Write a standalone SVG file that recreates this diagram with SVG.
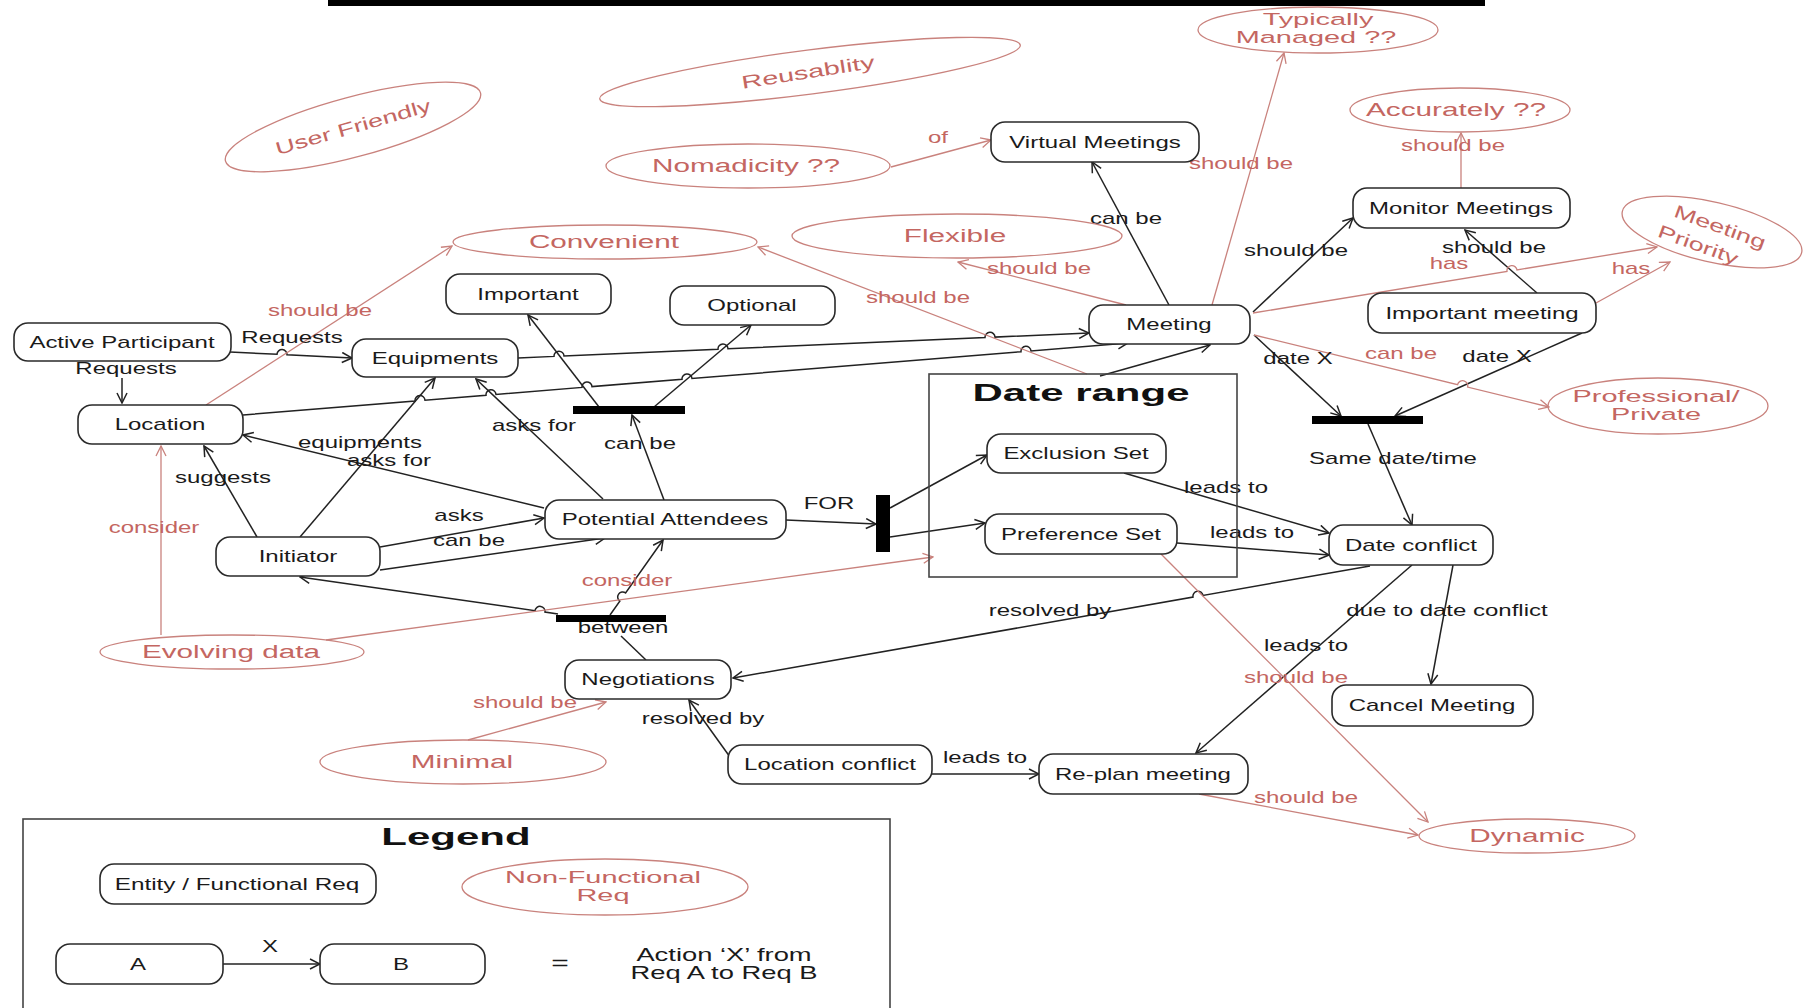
<svg xmlns="http://www.w3.org/2000/svg" width="1805" height="1008" viewBox="0 0 1805 1008">
<style>
.n{fill:#fff;stroke:#2a2a2a;stroke-width:1.6}
.e{fill:none;stroke:#c9827d;stroke-width:1.3}
.bar{fill:#000}
.c{fill:none;stroke:#222;stroke-width:1.5;marker-end:url(#ab)}
.cp{fill:none;stroke:#222;stroke-width:1.5}
.cr{fill:none;stroke:#c9827d;stroke-width:1.3;marker-end:url(#ar)}
text{font-family:"Liberation Sans",Arial,sans-serif;text-anchor:middle}
.t{font-size:16px;fill:#1a1a1a}
.r{font-size:16px;fill:#c46661}
.et{font-size:18px;fill:#c46661}
.b{font-size:24px;font-weight:bold;fill:#111}
.frame{fill:none;stroke:#444;stroke-width:1.6}
</style>
<defs>
<marker id="ab" viewBox="0 0 12 12" refX="11" refY="6" markerWidth="12" markerHeight="12" markerUnits="userSpaceOnUse" orient="auto"><path d="M1,1 L11,6 L1,11" fill="none" stroke="#222" stroke-width="1.5"/></marker>
<marker id="ar" viewBox="0 0 12 12" refX="11" refY="6" markerWidth="12" markerHeight="12" markerUnits="userSpaceOnUse" orient="auto"><path d="M1,1 L11,6 L1,11" fill="none" stroke="#c9827d" stroke-width="1.3"/></marker>
</defs>
<rect width="1805" height="1008" fill="#fff"/>
<rect x="328" y="0" width="1157" height="6" fill="#000"/>

<g id="connectors">
<path class="c" d="M230,352 L277,354.3 A5,5 0 0 1 287,354.8 L352,358"/>
<path class="c" d="M122,378 L122,403"/>
<path class="c" d="M518,358 L554,356.4 A5,5 0 0 1 564,356 L718,349.2 A5,5 0 0 1 728,348.8 L985,337.6 A5,5 0 0 1 995,337.1 L1089,333"/>
<path class="c" d="M243,415 L415,401 A5,5 0 0 1 425,400.2 L486,395.2 A5,5 0 0 1 496,394.4 L582,387.4 A5,5 0 0 1 592,386.6 L682,379.3 A5,5 0 0 1 692,378.5 L1021,351.7 A5,5 0 0 1 1031,350.9 L1128,343"/>
<path class="c" d="M1100,376 L1210,345"/>
<path class="c" d="M1169,305 L1092,162"/>
<path class="c" d="M1253,312 L1353,218"/>
<path class="c" d="M1537,293 L1465,230"/>
<path class="c" d="M1254,335 L1341,416"/>
<path class="c" d="M1582,333 L1395,416"/>
<path class="c" d="M1368,424 L1412,525"/>
<path class="c" d="M1124,473 L1329,533"/>
<path class="c" d="M1177,543 L1329,555"/>
<path class="c" d="M1370,566 L1203,595.4 A5,5 0 0 0 1193,597.1 L733,678"/>
<path class="c" d="M1412,565 L1196,753"/>
<path class="c" d="M1453,565 L1431,684"/>
<path class="c" d="M932,774 L1039,774"/>
<path class="c" d="M730,757 L689,700"/>
<path class="cp" d="M621,636 L646,660"/>
<path class="c" d="M558,614 L545,612.1 A5,5 0 0 0 535,610.7 L300,577"/>
<path class="c" d="M610,615 L619.8,601.1 A5,5 0 0 1 625.6,592.9 L663,540"/>
<path class="c" d="M664,500 L632,415"/>
<path class="c" d="M599,407 L528,315"/>
<path class="c" d="M654,407 L751,325"/>
<path class="c" d="M786,520 L876,524"/>
<path class="c" d="M890,508 L987,455"/>
<path class="c" d="M890,537 L985,523"/>
<path class="c" d="M257,537 L204,446"/>
<path class="c" d="M300,537 L435,378"/>
<path class="c" d="M544,508 L243,435"/>
<path class="c" d="M603,499 L476,379"/>
<path class="c" d="M380,547 L544,518"/>
<path class="c" d="M380,570 L605,538"/>
<path class="c" d="M223,964 L320,964"/>

<path class="cr" d="M206,405 L452,246"/>
<path class="cr" d="M1087,374 L758,247"/>
<path class="cr" d="M1126,305 L958,262"/>
<path class="cr" d="M891,167 L991,140"/>
<path class="cr" d="M1212,305 L1284,53"/>
<path class="cr" d="M1461,188 L1461,133"/>
<path class="cr" d="M1253,313 L1507,271.5 A5,5 0 0 1 1517,269.9 L1657,247"/>
<path class="cr" d="M1596,303 L1670,262"/>
<path class="cr" d="M1254,335 L1457.6,384.6 A5,5 0 0 1 1467.6,387.1 L1549,407"/>
<path class="cr" d="M161,635 L161,446"/>
<path class="cr" d="M326,640 L933,557"/>
<path class="cr" d="M1161,554 L1428,822"/>
<path class="cr" d="M1199,794 L1418,835"/>
<path class="cr" d="M468,740 L606,702"/>

<g id="edge-labels">
<text class="t" transform="matrix(1.5 0 0 1 292 343)">Requests</text>
<text class="t" transform="matrix(1.5 0 0 1 126 374)">Requests</text>
<text class="t" transform="matrix(1.5 0 0 1 223 483)">suggests</text>
<text class="t" transform="matrix(1.5 0 0 1 360 448)">equipments</text>
<text class="t" transform="matrix(1.5 0 0 1 389 466)">asks for</text>
<text class="t" transform="matrix(1.5 0 0 1 534 431)">asks for</text>
<text class="t" transform="matrix(1.5 0 0 1 459 521)">asks</text>
<text class="t" transform="matrix(1.5 0 0 1 469 546)">can be</text>
<text class="t" transform="matrix(1.5 0 0 1 640 449)">can be</text>
<text class="t" transform="matrix(1.5 0 0 1 829 509)">FOR</text>
<text class="t" transform="matrix(1.5 0 0 1 623 633)">between</text>
<text class="t" transform="matrix(1.5 0 0 1 1050 616)">resolved by</text>
<text class="t" transform="matrix(1.5 0 0 1 703 724)">resolved by</text>
<text class="t" transform="matrix(1.5 0 0 1 985 763)">leads to</text>
<text class="t" transform="matrix(1.5 0 0 1 1226 493)">leads to</text>
<text class="t" transform="matrix(1.5 0 0 1 1252 538)">leads to</text>
<text class="t" transform="matrix(1.5 0 0 1 1306 651)">leads to</text>
<text class="t" transform="matrix(1.5 0 0 1 1447 616)">due to date conflict</text>
<text class="t" transform="matrix(1.5 0 0 1 1393 464)">Same date/time</text>
<text class="t" transform="matrix(1.5 0 0 1 1298 364)">date X</text>
<text class="t" transform="matrix(1.5 0 0 1 1497 362)">date X</text>
<text class="t" transform="matrix(1.5 0 0 1 1126 224)">can be</text>
<text class="t" transform="matrix(1.5 0 0 1 1296 256)">should be</text>
<text class="t" transform="matrix(1.5 0 0 1 1494 253)">should be</text>
<text class="t" transform="matrix(1.5 0 0 1 270 952)">X</text>
<text class="r" transform="matrix(1.5 0 0 1 320 316)">should be</text>
<text class="r" transform="matrix(1.5 0 0 1 918 303)">should be</text>
<text class="r" transform="matrix(1.5 0 0 1 1039 274)">should be</text>
<text class="r" transform="matrix(1.5 0 0 1 938 143)">of</text>
<text class="r" transform="matrix(1.5 0 0 1 1241 169)">should be</text>
<text class="r" transform="matrix(1.5 0 0 1 1453 151)">should be</text>
<text class="r" transform="matrix(1.5 0 0 1 1449 269)">has</text>
<text class="r" transform="matrix(1.5 0 0 1 1631 274)">has</text>
<text class="r" transform="matrix(1.5 0 0 1 1401 359)">can be</text>
<text class="r" transform="matrix(1.5 0 0 1 154 533)">consider</text>
<text class="r" transform="matrix(1.5 0 0 1 627 586)">consider</text>
<text class="r" transform="matrix(1.5 0 0 1 525 708)">should be</text>
<text class="r" transform="matrix(1.5 0 0 1 1296 683)">should be</text>
<text class="r" transform="matrix(1.5 0 0 1 1306 803)">should be</text>
</g>
</g>

<g id="bars">
<rect class="bar" x="573" y="406" width="112" height="8"/>
<rect class="bar" x="876" y="495" width="14" height="57"/>
<rect class="bar" x="556" y="615" width="110" height="7"/>
<rect class="bar" x="1312" y="416" width="111" height="8"/>
</g>

<g id="date-range"><rect class="frame" x="929" y="374" width="308" height="203"/><text class="b" transform="matrix(1.75 0 0 1 1081 401)">Date range</text></g>

<g id="active-participant"><rect class="n" x="14" y="323" width="217" height="38" rx="14"/><text class="t" transform="matrix(1.5 0 0 1 122 348)">Active Participant</text></g>
<g id="equipments"><rect class="n" x="352" y="339" width="166" height="38" rx="14"/><text class="t" transform="matrix(1.5 0 0 1 435 364)">Equipments</text></g>
<g id="location"><rect class="n" x="78" y="405" width="165" height="39" rx="14"/><text class="t" transform="matrix(1.5 0 0 1 160 430)">Location</text></g>
<g id="important"><rect class="n" x="446" y="274" width="165" height="40" rx="14"/><text class="t" transform="matrix(1.5 0 0 1 528 300)">Important</text></g>
<g id="optional"><rect class="n" x="670" y="286" width="165" height="39" rx="14"/><text class="t" transform="matrix(1.5 0 0 1 752 311)">Optional</text></g>
<g id="virtual-meetings"><rect class="n" x="991" y="122" width="208" height="40" rx="14"/><text class="t" transform="matrix(1.5 0 0 1 1095 148)">Virtual Meetings</text></g>
<g id="meeting"><rect class="n" x="1089" y="305" width="161" height="39" rx="14"/><text class="t" transform="matrix(1.5 0 0 1 1169 330)">Meeting</text></g>
<g id="monitor-meetings"><rect class="n" x="1353" y="188" width="217" height="40" rx="14"/><text class="t" transform="matrix(1.5 0 0 1 1461 214)">Monitor Meetings</text></g>
<g id="important-meeting"><rect class="n" x="1368" y="293" width="228" height="40" rx="14"/><text class="t" transform="matrix(1.5 0 0 1 1482 319)">Important meeting</text></g>
<g id="initiator"><rect class="n" x="216" y="537" width="164" height="39" rx="14"/><text class="t" transform="matrix(1.5 0 0 1 298 562)">Initiator</text></g>
<g id="potential-attendees"><rect class="n" x="545" y="500" width="241" height="39" rx="14"/><text class="t" transform="matrix(1.5 0 0 1 665 525)">Potential Attendees</text></g>
<g id="exclusion-set"><rect class="n" x="987" y="434" width="179" height="39" rx="14"/><text class="t" transform="matrix(1.5 0 0 1 1076 459)">Exclusion Set</text></g>
<g id="preference-set"><rect class="n" x="985" y="514" width="192" height="40" rx="14"/><text class="t" transform="matrix(1.5 0 0 1 1081 540)">Preference Set</text></g>
<g id="date-conflict"><rect class="n" x="1329" y="525" width="164" height="40" rx="14"/><text class="t" transform="matrix(1.5 0 0 1 1411 551)">Date conflict</text></g>
<g id="negotiations"><rect class="n" x="565" y="660" width="166" height="39" rx="14"/><text class="t" transform="matrix(1.5 0 0 1 648 685)">Negotiations</text></g>
<g id="location-conflict"><rect class="n" x="728" y="745" width="204" height="39" rx="14"/><text class="t" transform="matrix(1.5 0 0 1 830 770)">Location conflict</text></g>
<g id="re-plan-meeting"><rect class="n" x="1039" y="754" width="209" height="40" rx="14"/><text class="t" transform="matrix(1.5 0 0 1 1143 780)">Re-plan meeting</text></g>
<g id="cancel-meeting"><rect class="n" x="1332" y="685" width="201" height="41" rx="14"/><text class="t" transform="matrix(1.5 0 0 1 1432 711)">Cancel Meeting</text></g>

<g id="user-friendly"><ellipse class="e" cx="0" cy="0" rx="132" ry="30" transform="translate(353,127) rotate(-15)"/><text class="et" y="6.3" transform="translate(353,127) rotate(-16) scale(1.5,1)">User Friendly</text></g>
<g id="reusablity"><ellipse class="e" cx="0" cy="0" rx="212" ry="22" transform="translate(810,72) rotate(-7.3)"/><text class="et" y="6.3" transform="translate(808,72) rotate(-9) scale(1.6,1)">Reusablity</text></g>
<g id="nomadicity"><ellipse class="e" cx="748" cy="166" rx="142" ry="22"/><text class="et" transform="matrix(1.65 0 0 1 746 172)">Nomadicity ??</text></g>
<g id="convenient"><ellipse class="e" cx="605" cy="242" rx="152" ry="17"/><text class="et" transform="matrix(1.65 0 0 1 604 248)">Convenient</text></g>
<g id="flexible"><ellipse class="e" cx="957" cy="236" rx="165" ry="22"/><text class="et" transform="matrix(1.65 0 0 1 955 242)">Flexible</text></g>
<g id="typically-managed"><ellipse class="e" cx="1318" cy="30" rx="120" ry="23"/><text class="et" style="font-size:17px" transform="matrix(1.7 0 0 1 1318 25)">Typically</text><text class="et" style="font-size:17px" transform="matrix(1.7 0 0 1 1316 43)">Managed ??</text></g>
<g id="accurately"><ellipse class="e" cx="1460" cy="110" rx="110" ry="22"/><text class="et" transform="matrix(1.65 0 0 1 1456 116)">Accurately ??</text></g>
<g id="meeting-priority"><ellipse class="e" cx="0" cy="0" rx="92" ry="30" transform="translate(1712,232) rotate(13)"/><text class="et" y="6" transform="translate(1720,227) rotate(20) scale(1.5,1)">Meeting</text><text class="et" y="6" transform="translate(1698,245) rotate(20) scale(1.5,1)">Priority</text></g>
<g id="professional-private"><ellipse class="e" cx="1658" cy="406" rx="110" ry="28"/><text class="et" style="font-size:17px" transform="matrix(1.7 0 0 1 1656 402)">Professional/</text><text class="et" style="font-size:17px" transform="matrix(1.7 0 0 1 1656 420)">Private</text></g>
<g id="evolving-data"><ellipse class="e" cx="232" cy="652" rx="132" ry="17"/><text class="et" transform="matrix(1.65 0 0 1 231 658)">Evolving data</text></g>
<g id="minimal"><ellipse class="e" cx="463" cy="762" rx="143" ry="22"/><text class="et" transform="matrix(1.65 0 0 1 462 768)">Minimal</text></g>
<g id="dynamic"><ellipse class="e" cx="1527" cy="836" rx="108" ry="17"/><text class="et" transform="matrix(1.65 0 0 1 1527 842)">Dynamic</text></g>

<g id="legend">
<rect class="frame" x="23" y="819" width="867" height="200"/>
<text class="b" transform="matrix(1.75 0 0 1 456 845)">Legend</text>
<rect class="n" x="100" y="864" width="276" height="40" rx="14"/>
<text class="t" transform="matrix(1.52 0 0 1 237 890)">Entity / Functional Req</text>
<ellipse class="e" cx="605" cy="887" rx="143" ry="28"/>
<text class="et" style="font-size:17px" transform="matrix(1.7 0 0 1 603 883)">Non-Functional</text>
<text class="et" style="font-size:17px" transform="matrix(1.7 0 0 1 603 901)">Req</text>
<rect class="n" x="56" y="944" width="167" height="40" rx="14"/>
<text class="t" transform="matrix(1.5 0 0 1 138 970)">A</text>
<rect class="n" x="320" y="944" width="165" height="40" rx="14"/>
<text class="t" transform="matrix(1.5 0 0 1 401 970)">B</text>
<text class="t" style="font-size:20px" transform="matrix(1.5 0 0 1 560 970)">=</text>
<text class="t" style="font-size:18px" transform="matrix(1.52 0 0 1 724 961)">Action ‘X’ from</text>
<text class="t" style="font-size:18px" transform="matrix(1.52 0 0 1 724 979)">Req A to Req B</text>
</g>
</svg>
